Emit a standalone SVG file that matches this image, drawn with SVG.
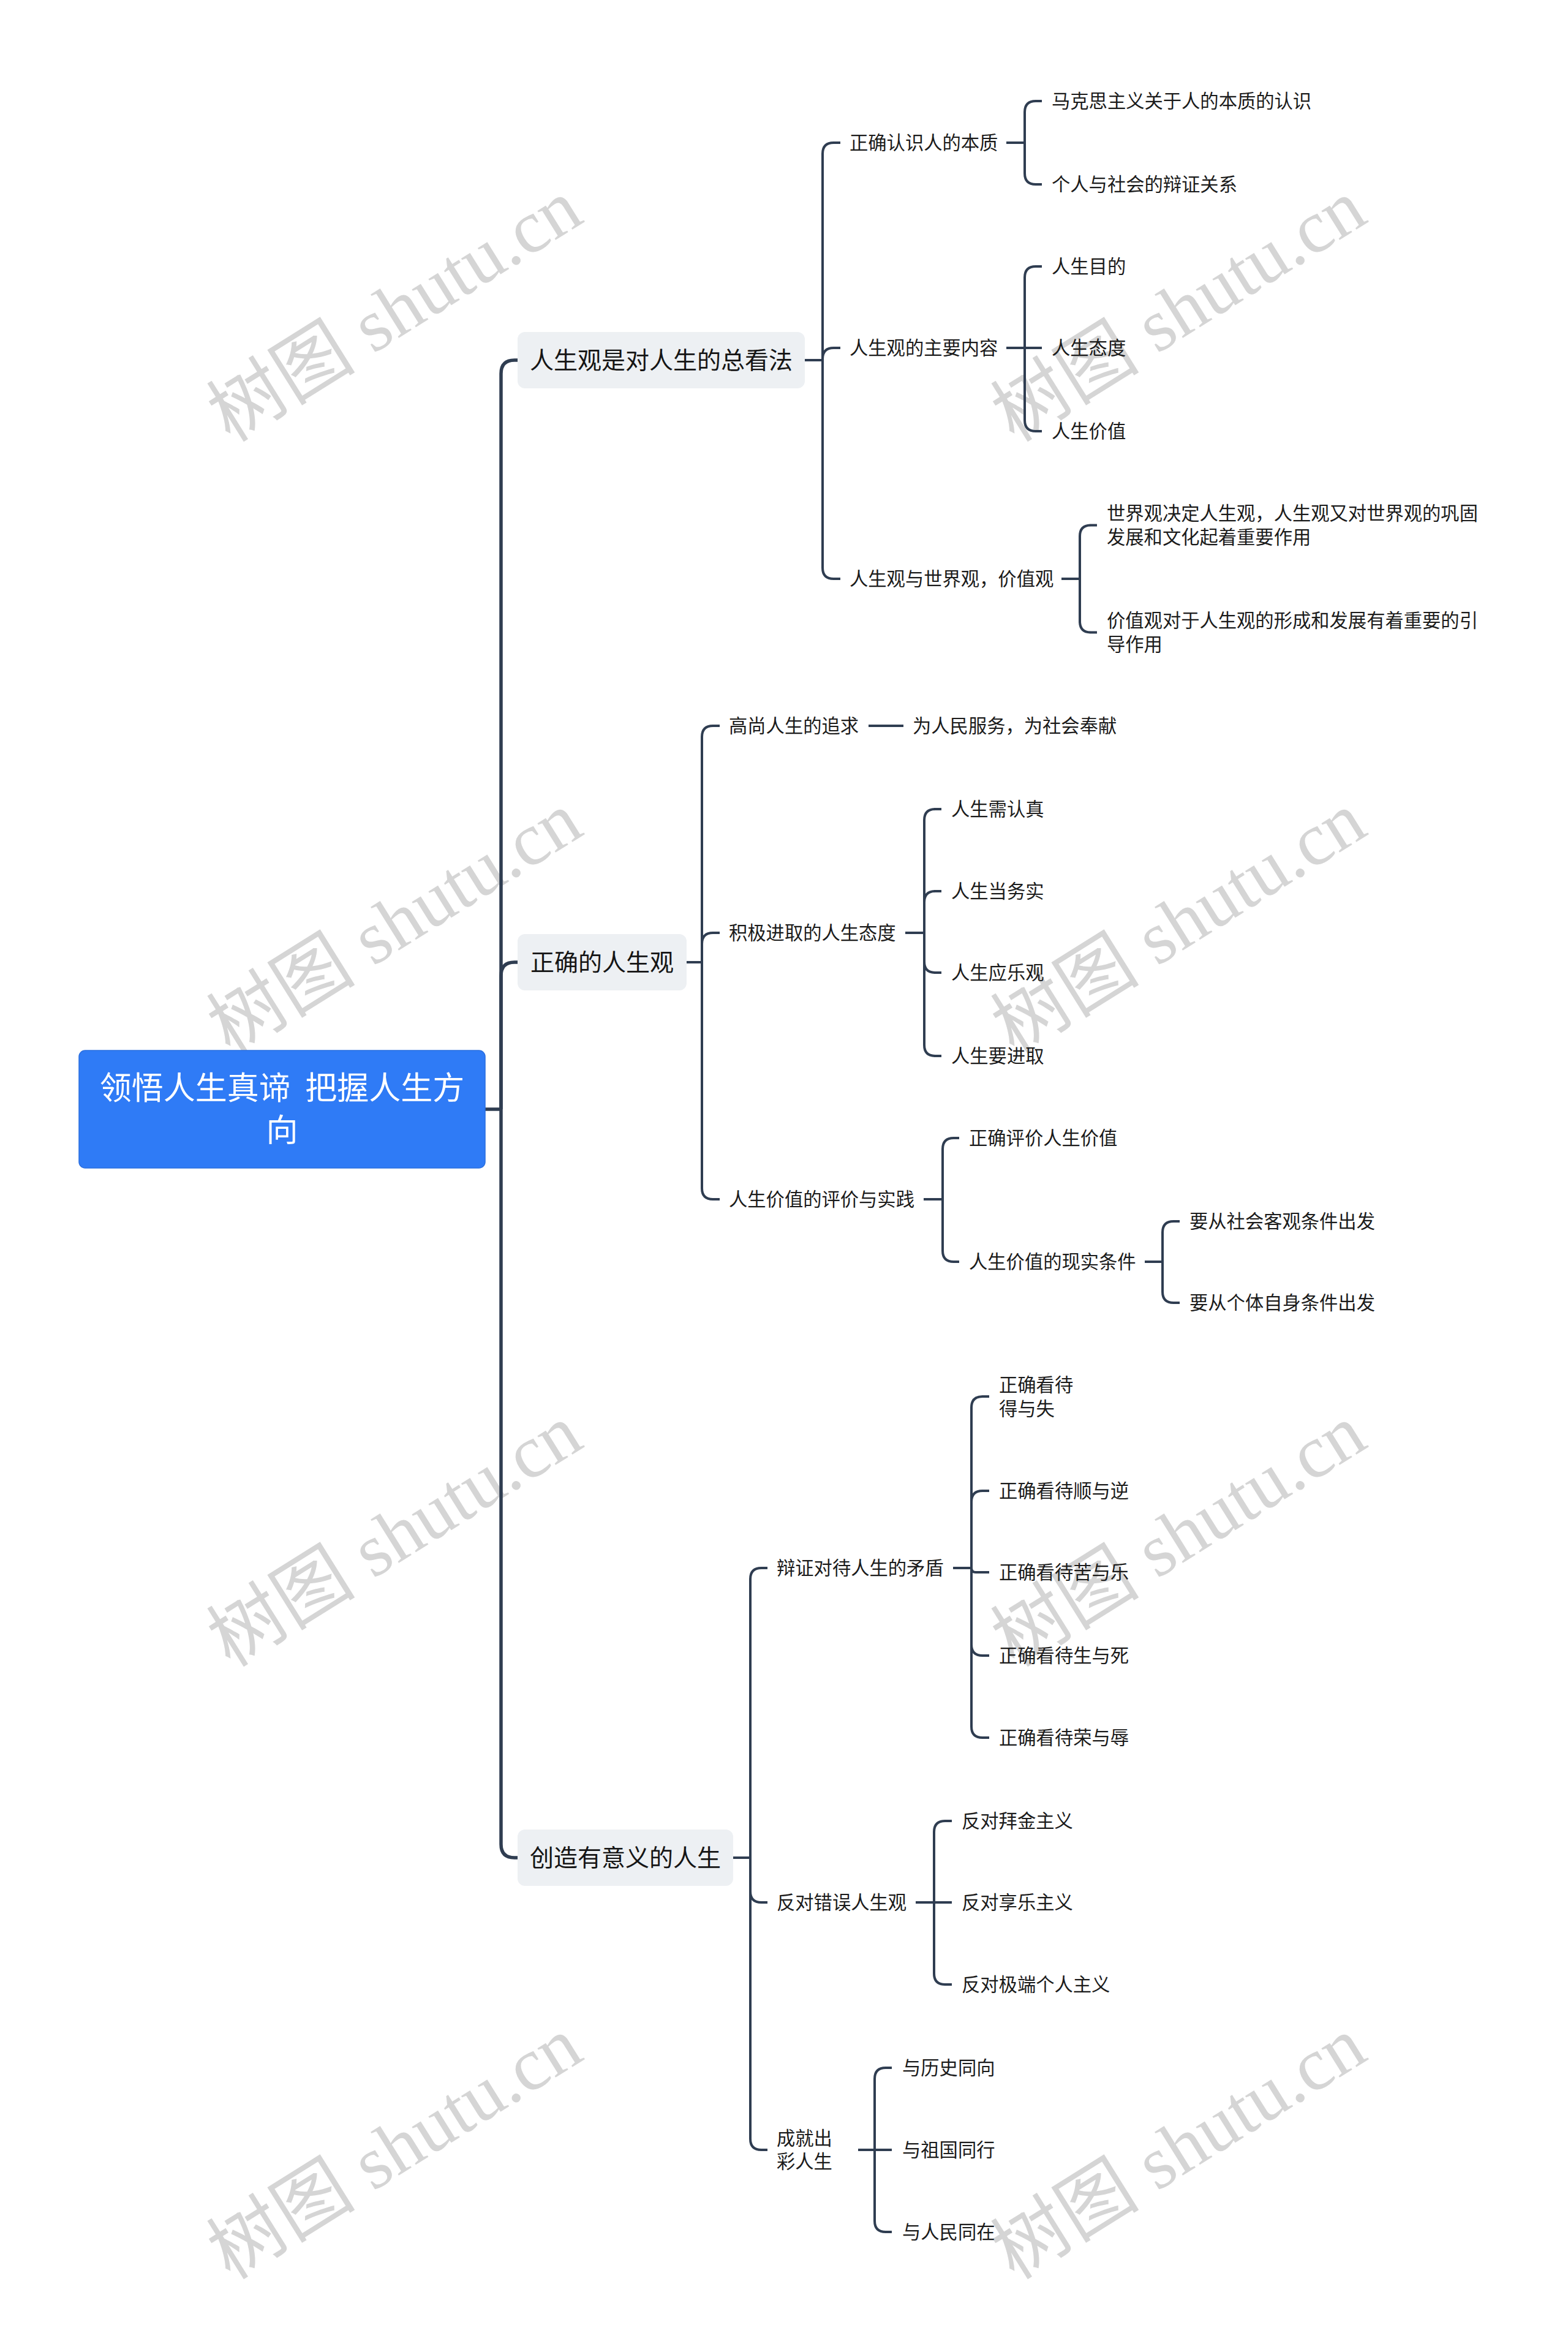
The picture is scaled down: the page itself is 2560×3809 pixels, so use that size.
<svg xmlns="http://www.w3.org/2000/svg" width="2560" height="3809" viewBox="0 0 2560 3809">
<style>
.wm{font-family:"Liberation Serif","Noto Sans CJK SC",serif;font-size:122px;fill:#d5d5d5;}
.t{font-family:"Noto Sans CJK SC","Noto Sans CJK TC",sans-serif;font-size:30.3px;fill:#1b1b1b;}
.t1{font-family:"Noto Sans CJK SC","Noto Sans CJK TC",sans-serif;font-size:39px;fill:#151515;text-anchor:middle;}
.t0{font-family:"Noto Sans CJK SC","Noto Sans CJK TC",sans-serif;font-size:52px;fill:#ffffff;text-anchor:middle;white-space:pre;}
.b1{fill:#edf0f3;}
.c0{fill:none;stroke:#2f3d51;stroke-width:5.5;stroke-linecap:butt;}
.c{fill:none;stroke:#2f3d51;stroke-width:4;stroke-linecap:butt;}
</style>
<rect x="0" y="0" width="2560" height="3809" fill="#ffffff"/>
<g id="watermarks">
<text class="wm" text-anchor="middle" transform="translate(646,510) rotate(-32)" y="38">树图 shutu.cn</text>
<text class="wm" text-anchor="middle" transform="translate(1926,510) rotate(-32)" y="38">树图 shutu.cn</text>
<text class="wm" text-anchor="middle" transform="translate(646,1510) rotate(-32)" y="38">树图 shutu.cn</text>
<text class="wm" text-anchor="middle" transform="translate(1926,1510) rotate(-32)" y="38">树图 shutu.cn</text>
<text class="wm" text-anchor="middle" transform="translate(646,2510) rotate(-32)" y="38">树图 shutu.cn</text>
<text class="wm" text-anchor="middle" transform="translate(1926,2510) rotate(-32)" y="38">树图 shutu.cn</text>
<text class="wm" text-anchor="middle" transform="translate(646,3510) rotate(-32)" y="38">树图 shutu.cn</text>
<text class="wm" text-anchor="middle" transform="translate(1926,3510) rotate(-32)" y="38">树图 shutu.cn</text>
</g>
<g id="connectors">
<path class="c0" d="M792 1811 H818"/>
<path class="c0" d="M818 1811 V610 Q818 588 840 588 H845"/>
<path class="c0" d="M818 1811 V1593 Q818 1571 840 1571 H845"/>
<path class="c0" d="M818 1811 V3011 Q818 3033 840 3033 H845"/>
<path class="c" d="M1314 588 H1343"/>
<path class="c" d="M1343 588 V251 Q1343 233 1361 233 H1372"/>
<path class="c" d="M1343 588 V586 Q1343 568 1361 568 H1372"/>
<path class="c" d="M1343 588 V927 Q1343 945 1361 945 H1372"/>
<path class="c" d="M1643 233 H1673"/>
<path class="c" d="M1673 233 V183 Q1673 165 1691 165 H1701"/>
<path class="c" d="M1673 233 V283 Q1673 301 1691 301 H1701"/>
<path class="c" d="M1643 568 H1701"/>
<path class="c" d="M1673 568 V453 Q1673 435 1691 435 H1701"/>
<path class="c" d="M1673 568 V686 Q1673 704 1691 704 H1701"/>
<path class="c" d="M1733 945 H1763"/>
<path class="c" d="M1763 945 V875.5 Q1763 857.5 1781 857.5 H1791"/>
<path class="c" d="M1763 945 V1014.5 Q1763 1032.5 1781 1032.5 H1791"/>
<path class="c" d="M1121 1571 H1146"/>
<path class="c" d="M1146 1571 V1203 Q1146 1185 1164 1185 H1175"/>
<path class="c" d="M1146 1571 V1541 Q1146 1523 1164 1523 H1175"/>
<path class="c" d="M1146 1571 V1940 Q1146 1958 1164 1958 H1175"/>
<path class="c" d="M1418 1185 H1475"/>
<path class="c" d="M1478 1523 H1509"/>
<path class="c" d="M1509 1523 V1339 Q1509 1321 1527 1321 H1537"/>
<path class="c" d="M1509 1523 V1473 Q1509 1455 1527 1455 H1537"/>
<path class="c" d="M1509 1523 V1570 Q1509 1588 1527 1588 H1537"/>
<path class="c" d="M1509 1523 V1706 Q1509 1724 1527 1724 H1537"/>
<path class="c" d="M1508 1958 H1539"/>
<path class="c" d="M1539 1958 V1876 Q1539 1858 1557 1858 H1566"/>
<path class="c" d="M1539 1958 V2042 Q1539 2060 1557 2060 H1566"/>
<path class="c" d="M1869 2060 H1898"/>
<path class="c" d="M1898 2060 V2012 Q1898 1994 1916 1994 H1926"/>
<path class="c" d="M1898 2060 V2109 Q1898 2127 1916 2127 H1926"/>
<path class="c" d="M1197 3033 H1225"/>
<path class="c" d="M1225 3033 V2578 Q1225 2560 1243 2560 H1253"/>
<path class="c" d="M1225 3033 V3088 Q1225 3106 1243 3106 H1253"/>
<path class="c" d="M1225 3033 V3492 Q1225 3510 1243 3510 H1253"/>
<path class="c" d="M1556 2560 H1586"/>
<path class="c" d="M1586 2560 V2298 Q1586 2280 1604 2280 H1615"/>
<path class="c" d="M1586 2560 V2452 Q1586 2434 1604 2434 H1615"/>
<path class="c" d="M1586 2560 Q1586 2567 1593 2567 H1615"/>
<path class="c" d="M1586 2560 V2685 Q1586 2703 1604 2703 H1615"/>
<path class="c" d="M1586 2560 V2819 Q1586 2837 1604 2837 H1615"/>
<path class="c" d="M1495 3106 H1554"/>
<path class="c" d="M1525 3106 V2991 Q1525 2973 1543 2973 H1554"/>
<path class="c" d="M1525 3106 V3222 Q1525 3240 1543 3240 H1554"/>
<path class="c" d="M1401 3510 H1456"/>
<path class="c" d="M1428 3510 V3394 Q1428 3376 1446 3376 H1456"/>
<path class="c" d="M1428 3510 V3626 Q1428 3644 1446 3644 H1456"/>
</g>
<g id="root">
<rect x="129" y="1715" width="663" height="192" rx="10" fill="#2f7bf6" stroke="#2a6fe0" stroke-width="1.5"/>
<text class="t0" x="460.5" y="1795" xml:space="preserve">领悟人生真谛  把握人生方</text>
<text class="t0" x="460.5" y="1864">向</text>
</g>
<g id="n1">
<rect class="b1" x="845" y="542" width="469" height="92" rx="12"/>
<text class="t1" x="1079.5" y="602">人生观是对人生的总看法</text>
</g>
<g id="n2">
<rect class="b1" x="845" y="1525" width="276" height="92" rx="12"/>
<text class="t1" x="983" y="1585">正确的人生观</text>
</g>
<g id="n3">
<rect class="b1" x="845" y="2987" width="352" height="92" rx="12"/>
<text class="t1" x="1021" y="3047">创造有意义的人生</text>
</g>
<g id="a1"><text class="t" x="1387" y="244">正确认识人的本质</text></g>
<g id="a1-1"><text class="t" x="1717" y="176">马克思主义关于人的本质的认识</text></g>
<g id="a1-2"><text class="t" x="1717" y="312">个人与社会的辩证关系</text></g>
<g id="a2"><text class="t" x="1387" y="579">人生观的主要内容</text></g>
<g id="a2-1"><text class="t" x="1717" y="446">人生目的</text></g>
<g id="a2-2"><text class="t" x="1717" y="579">人生态度</text></g>
<g id="a2-3"><text class="t" x="1717" y="715">人生价值</text></g>
<g id="a3"><text class="t" x="1387" y="956">人生观与世界观，价值观</text></g>
<g id="a3-1"><text class="t" x="1807" y="849">世界观决定人生观，人生观又对世界观的巩固</text><text class="t" x="1807" y="888">发展和文化起着重要作用</text></g>
<g id="a3-2"><text class="t" x="1807" y="1024">价值观对于人生观的形成和发展有着重要的引</text><text class="t" x="1807" y="1063">导作用</text></g>
<g id="b1"><text class="t" x="1190" y="1196">高尚人生的追求</text></g>
<g id="b1-1"><text class="t" x="1490" y="1196">为人民服务，为社会奉献</text></g>
<g id="b2"><text class="t" x="1190" y="1534">积极进取的人生态度</text></g>
<g id="b2-1"><text class="t" x="1553" y="1332">人生需认真</text></g>
<g id="b2-2"><text class="t" x="1553" y="1466">人生当务实</text></g>
<g id="b2-3"><text class="t" x="1553" y="1599">人生应乐观</text></g>
<g id="b2-4"><text class="t" x="1553" y="1735">人生要进取</text></g>
<g id="b3"><text class="t" x="1190" y="1969">人生价值的评价与实践</text></g>
<g id="b3-1"><text class="t" x="1582" y="1869">正确评价人生价值</text></g>
<g id="b3-2"><text class="t" x="1582" y="2071">人生价值的现实条件</text></g>
<g id="b3-2-1"><text class="t" x="1942" y="2005">要从社会客观条件出发</text></g>
<g id="b3-2-2"><text class="t" x="1942" y="2138">要从个体自身条件出发</text></g>
<g id="c1"><text class="t" x="1268" y="2571">辩证对待人生的矛盾</text></g>
<g id="c1-1"><text class="t" x="1631" y="2272">正确看待</text><text class="t" x="1631" y="2311">得与失</text></g>
<g id="c1-2"><text class="t" x="1631" y="2445">正确看待顺与逆</text></g>
<g id="c1-3"><text class="t" x="1631" y="2578">正确看待苦与乐</text></g>
<g id="c1-4"><text class="t" x="1631" y="2714">正确看待生与死</text></g>
<g id="c1-5"><text class="t" x="1631" y="2848">正确看待荣与辱</text></g>
<g id="c2"><text class="t" x="1268" y="3117">反对错误人生观</text></g>
<g id="c2-1"><text class="t" x="1570" y="2984">反对拜金主义</text></g>
<g id="c2-2"><text class="t" x="1570" y="3117">反对享乐主义</text></g>
<g id="c2-3"><text class="t" x="1570" y="3251">反对极端个人主义</text></g>
<g id="c3"><text class="t" x="1268" y="3502">成就出</text><text class="t" x="1268" y="3540">彩人生</text></g>
<g id="c3-1"><text class="t" x="1473" y="3387">与历史同向</text></g>
<g id="c3-2"><text class="t" x="1473" y="3521">与祖国同行</text></g>
<g id="c3-3"><text class="t" x="1473" y="3655">与人民同在</text></g>
</svg>
